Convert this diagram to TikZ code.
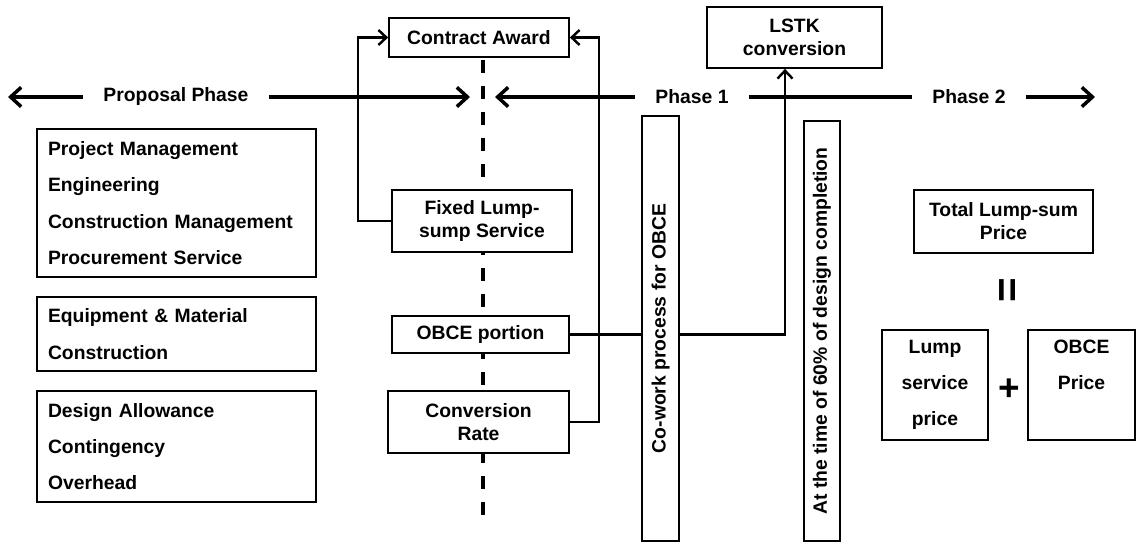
\documentclass[tikz,border=0pt]{standalone}
\usepackage{fontspec}
\setmainfont{Liberation Sans}
\usetikzlibrary{arrows.meta, positioning}

\tikzset{
  box/.style={draw, line width=1pt, fill=white, font=\bfseries\fontsize{11}{13}\selectfont, align=center, inner sep=0pt},
  listbox/.style={box, font=\bfseries\fontsize{11}{20.7}\selectfont, align=left, text width=5.14cm, inner xsep=0.22cm},
  widebox/.style={box, font=\bfseries\fontsize{11}{20.4}\selectfont},
  phase/.style={font=\bfseries\fontsize{11}{13}\selectfont, inner xsep=0.4cm},
  timeline/.style={line width=2pt, -{Straight Barb[length=6pt,width=11pt]}},
  loopline/.style={line width=1.4pt, -{Straight Barb[length=4.5pt,width=8.5pt]}},
  link/.style={line width=1.3pt},
  milestone/.style={line width=2.4pt, dash pattern=on 7.4pt off 7.4pt}
}

\begin{document}
\begin{tikzpicture}[x=0.02cm, y=-0.02cm]
	\useasboundingbox (0,0) rectangle (1136,544);

	\coordinate (dashtop) at (483,60);
	\coordinate (dashend) at (483,518);
	\coordinate (lefttip) at (8,97);
	\coordinate (tipa) at (470,97);
	\coordinate (tipb) at (495,97);
	\coordinate (righttip) at (1095,97);

	\draw[milestone] (dashtop) -- (dashend);

	\node[phase] (proposal) at (176,97) {Proposal Phase};
	\node[phase] (phase1) at (692,97) {Phase 1};
	\node[phase] (phase2) at (969,97) {Phase 2};

	\node[listbox, minimum height=2.96cm] (services) at (176.5,203) {Project Management\\Engineering\\Construction Management\\Procurement Service};
	\node[listbox, minimum height=1.48cm] (materials) at (176.5,334) {Equipment \& Material\\Construction};
	\node[listbox, minimum height=2.22cm] (allowance) at (176.5,446.5) {Design Allowance\\Contingency\\Overhead};

	\node[box, minimum width=3.6cm, minimum height=0.78cm] (award) at (479,37.5) {Contract Award};
	\node[box, minimum width=3.6cm, minimum height=1.24cm] (fixed) at (482,221) {Fixed Lump-\\sump Service};
	\node[box, minimum width=3.54cm, minimum height=0.74cm] (portion) at (480.5,334.5) {OBCE portion};
	\node[box, minimum width=3.62cm, minimum height=1.24cm] (rate) at (478.5,422) {Conversion\\Rate};

	\node[box, minimum width=0.74cm, minimum height=8.5cm] (cowork) at (660.5,328.5) {\rotatebox{90}{Co-work process for OBCE}};
	\node[box, minimum width=0.72cm, minimum height=8.4cm] (sixty) at (822,331) {\rotatebox{90}{At the time of 60\% of design completion}};
	\node[box, minimum width=3.5cm, minimum height=1.22cm] (lstk) at (794.5,37.5) {LSTK\\conversion};

	\node[box, minimum width=3.58cm, minimum height=1.26cm] (total) at (1003.5,221.5) {Total Lump-sum\\Price};
	\node[font=\bfseries\fontsize{24}{24}\selectfont] (equals) at (1011,290) {\rotatebox{90}{=}};
	\node[widebox, minimum width=2.12cm, minimum height=2.2cm] (lumpprice) at (935,385) {Lump\\service\\price};
	\node[font=\bfseries\fontsize{21}{21}\selectfont] (plus) at (1009,390) {+};
	\node[widebox, minimum width=2.14cm, minimum height=2.2cm] (obceprice) at (1081.5,385) {OBCE\\Price\\\phantom{price}};

	\draw[timeline] (proposal.west) -- (lefttip);
	\draw[timeline] (proposal.east) -- (tipa);
	\draw[timeline] (phase1.west) -- (tipb);
	\draw[line width=2pt] (phase1.east) -- (phase2.west);
	\draw[timeline] (phase2.east) -- (righttip);

	\draw[loopline] (fixed.west) -- ++(-33,0) |- (award.west);
	\draw[loopline] (rate.east) -- ++(29,0) |- (award.east);
	\draw[link] (portion.east) -- (portion.east -| cowork.west);
	\draw[loopline] (cowork.east |- portion.east) -| ([xshift=-0.19cm]lstk.south);

\end{tikzpicture}
\end{document}
